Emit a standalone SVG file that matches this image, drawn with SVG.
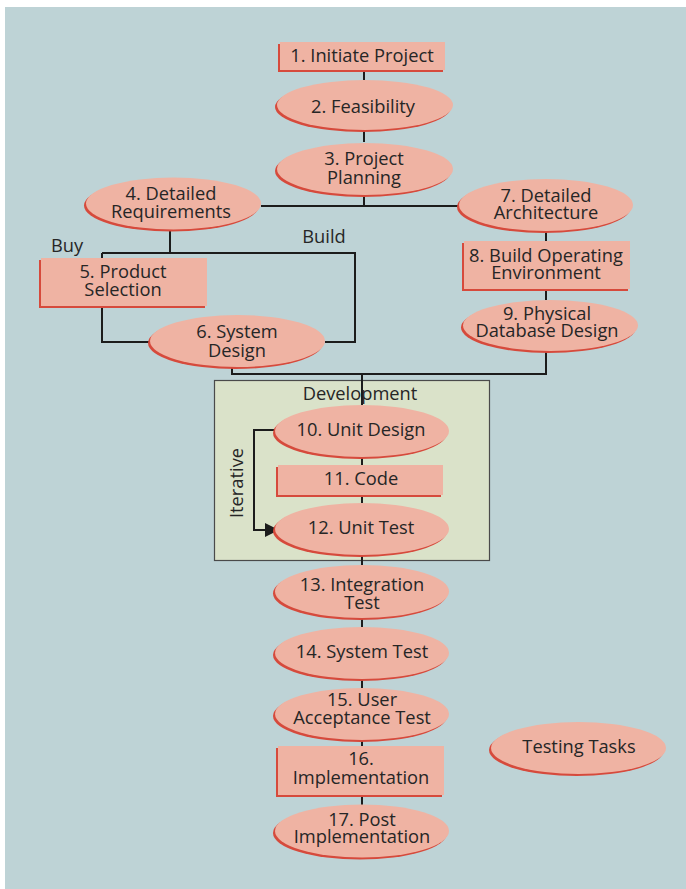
<svg xmlns="http://www.w3.org/2000/svg" width="686" height="889" viewBox="0 0 686 889">
<style>
.n{fill:#EFB3A3}
.s{fill:#D64A3C}
.t{font-family:"Open Sans","Noto Sans","Liberation Sans",sans-serif;font-size:18.3px;fill:#262626;text-anchor:middle}
.c{fill:none;stroke:#1c1c1c;stroke-width:2}
</style>
<defs>
<marker id="ah" markerWidth="14" markerHeight="14" refX="13" refY="7" orient="auto" markerUnits="userSpaceOnUse">
<path d="M0,0 L14,7 L0,14 Z" fill="#1c1c1c"/>
</marker>
</defs>
<rect x="5" y="7" width="681" height="882" fill="#BED3D6"/>
<g id="development">
<rect x="214.5" y="380.5" width="275" height="180" fill="#DAE2C9" stroke="#4a4a4a" stroke-width="1.2"/>
</g>
<g id="connectors">
<path class="c" d="M364,70 V80 M364,131 V142 M364,195 V206 M261,206 H459"/>
<path class="c" d="M170,230 V253 M102,253 H355 V342 H325 M102,253 V342 H150"/>
<path class="c" d="M546,231 V241 M546,289 V300 M546,351 V374 H232 V367"/>
<path class="c" d="M362,374 V405 M362,457 V465 M362,495 V503 M362,555 V565 M362,618 V627 M362,679 V688 M362,740 V746 M362,795 V805"/>
<path class="c" d="M275,430 H254 V530 H278" marker-end="url(#ah)"/>
</g>
<text class="t" x="360" y="400">Development</text>
<text class="t" transform="translate(243,483) rotate(-90)" x="0" y="0">Iterative</text>
<text class="t" x="67" y="252">Buy</text>
<text class="t" x="324" y="243">Build</text>
<g id="n1">
<rect class="s" x="278" y="44" width="165" height="28"/><rect class="n" x="280" y="42" width="165" height="28"/>
<text class="t" x="362" y="62">1. Initiate Project</text>
</g>
<g id="n2">
<ellipse class="s" cx="363" cy="107" rx="88" ry="25"/><ellipse class="n" cx="365" cy="105" rx="88" ry="25"/>
<text class="t" x="363" y="113">2. Feasibility</text>
</g>
<g id="n3">
<ellipse class="s" cx="363" cy="171" rx="88" ry="26"/><ellipse class="n" cx="365" cy="169" rx="88" ry="26"/>
<text class="t"><tspan x="364" y="165">3. Project</tspan><tspan x="364" y="184">Planning</tspan></text>
</g>
<g id="n4">
<ellipse class="s" cx="171.5" cy="205.5" rx="87.5" ry="26"/><ellipse class="n" cx="173.5" cy="203.5" rx="87.5" ry="26"/>
<text class="t"><tspan x="171" y="200">4. Detailed</tspan><tspan x="171" y="218">Requirements</tspan></text>
</g>
<g id="n5">
<rect class="s" x="39" y="260" width="166" height="48"/><rect class="n" x="41" y="258" width="166" height="48"/>
<text class="t"><tspan x="123" y="278">5. Product</tspan><tspan x="123" y="296">Selection</tspan></text>
</g>
<g id="n6">
<ellipse class="s" cx="235.5" cy="343" rx="87.5" ry="26"/><ellipse class="n" cx="237.5" cy="341" rx="87.5" ry="26"/>
<text class="t"><tspan x="237" y="338">6. System</tspan><tspan x="237" y="357">Design</tspan></text>
</g>
<g id="n7">
<ellipse class="s" cx="544" cy="207" rx="87" ry="26"/><ellipse class="n" cx="546" cy="205" rx="87" ry="26"/>
<text class="t"><tspan x="546" y="202">7. Detailed</tspan><tspan x="546" y="219">Architecture</tspan></text>
</g>
<g id="n8">
<rect class="s" x="462" y="243" width="166" height="48"/><rect class="n" x="464" y="241" width="166" height="48"/>
<text class="t"><tspan x="546" y="262">8. Build Operating</tspan><tspan x="546" y="279">Environment</tspan></text>
</g>
<g id="n9">
<ellipse class="s" cx="548.5" cy="327.5" rx="87.5" ry="25.5"/><ellipse class="n" cx="550.5" cy="325.5" rx="87.5" ry="25.5"/>
<text class="t"><tspan x="547" y="320">9. Physical</tspan><tspan x="547" y="337">Database Design</tspan></text>
</g>
<g id="n10">
<ellipse class="s" cx="360" cy="433" rx="87" ry="26"/><ellipse class="n" cx="362" cy="431" rx="87" ry="26"/>
<text class="t" x="361" y="436">10. Unit Design</text>
</g>
<g id="n11">
<rect class="s" x="276" y="467" width="165" height="30"/><rect class="n" x="278" y="465" width="165" height="30"/>
<text class="t" x="361" y="485">11. Code</text>
</g>
<g id="n12">
<ellipse class="s" cx="360" cy="531" rx="87" ry="26"/><ellipse class="n" cx="362" cy="529" rx="87" ry="26"/>
<text class="t" x="361" y="534">12. Unit Test</text>
</g>
<g id="n13">
<ellipse class="s" cx="360" cy="593.5" rx="87" ry="26.5"/><ellipse class="n" cx="362" cy="591.5" rx="87" ry="26.5"/>
<text class="t"><tspan x="362" y="591">13. Integration</tspan><tspan x="362" y="609">Test</tspan></text>
</g>
<g id="n14">
<ellipse class="s" cx="360" cy="655" rx="87" ry="26"/><ellipse class="n" cx="362" cy="653" rx="87" ry="26"/>
<text class="t" x="362" y="658">14. System Test</text>
</g>
<g id="n15">
<ellipse class="s" cx="360" cy="716" rx="87" ry="26"/><ellipse class="n" cx="362" cy="714" rx="87" ry="26"/>
<text class="t"><tspan x="362" y="706">15. User</tspan><tspan x="362" y="724">Acceptance Test</tspan></text>
</g>
<g id="n16">
<rect class="s" x="276" y="748" width="166" height="49"/><rect class="n" x="278" y="746" width="166" height="49"/>
<text class="t"><tspan x="361" y="765">16.</tspan><tspan x="361" y="784">Implementation</tspan></text>
</g>
<g id="n17">
<ellipse class="s" cx="360" cy="833" rx="87" ry="26.5"/><ellipse class="n" cx="362" cy="831" rx="87" ry="26.5"/>
<text class="t"><tspan x="362" y="826">17. Post</tspan><tspan x="362" y="843">Implementation</tspan></text>
</g>
<g id="testing">
<ellipse class="s" cx="576.5" cy="750" rx="87.5" ry="26"/><ellipse class="n" cx="578.5" cy="748" rx="87.5" ry="26"/>
<text class="t" x="579" y="753">Testing Tasks</text>
</g>
</svg>
